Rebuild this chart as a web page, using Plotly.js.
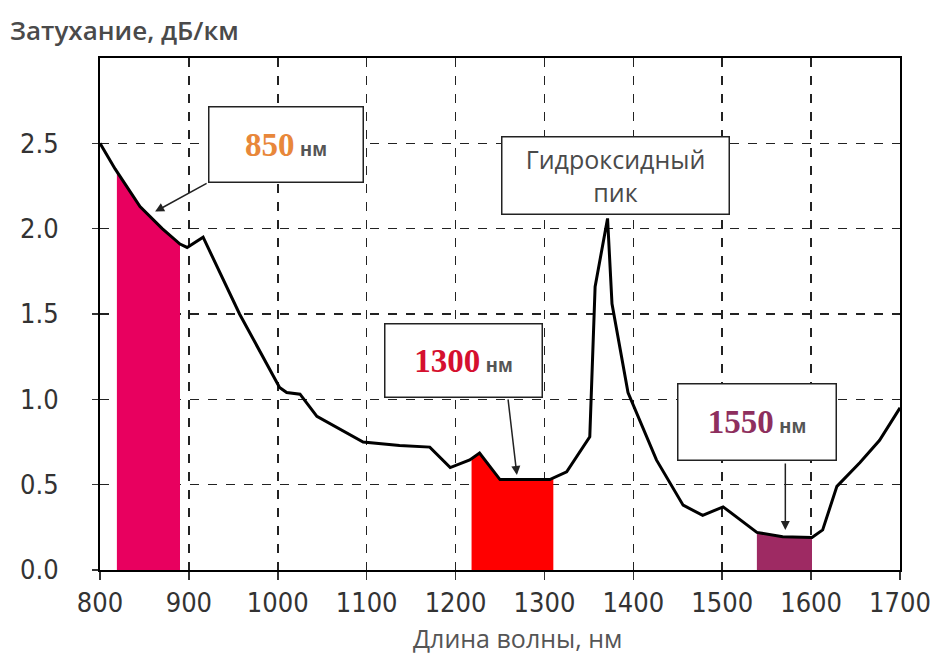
<!DOCTYPE html>
<html>
<head>
<meta charset="utf-8">
<script src="https://cdn.plot.ly/plotly-3.0.1.min.js"></script>
<style>html,body{margin:0;padding:0;background:#fff;}#chart{width:938px;height:657px;}</style>
</head>
<body>
<div id="chart"></div>
<script>
// Attenuation curve (wavelength nm -> dB/km)
var wavelength = [800, 817, 845, 870, 890, 898, 916, 957, 1002, 1010, 1025, 1044, 1096, 1137, 1171, 1194, 1216, 1227, 1250, 1306, 1325, 1351, 1357, 1371, 1376, 1394, 1426, 1456, 1478, 1501, 1539, 1568, 1601, 1613, 1629, 1655, 1677, 1700];
var attenuation = [2.5, 2.35, 2.13, 2.0, 1.91, 1.89, 1.95, 1.5, 1.07, 1.04, 1.03, 0.9, 0.75, 0.73, 0.72, 0.6, 0.645, 0.685, 0.53, 0.53, 0.575, 0.78, 1.66, 2.06, 1.56, 1.04, 0.645, 0.38, 0.32, 0.37, 0.22, 0.195, 0.19, 0.235, 0.49, 0.63, 0.76, 0.95];

// Transmission windows (shaded bands)
var band850X = [819, 845, 870, 890];
var band850Y = [2.33, 2.13, 2.0, 1.91];
var band1300X = [1218, 1227, 1250, 1306, 1310];
var band1300Y = [0.65, 0.685, 0.53, 0.53, 0.54];
var band1550X = [1539, 1568, 1601];
var band1550Y = [0.22, 0.195, 0.19];

var xTicks = [800, 900, 1000, 1100, 1200, 1300, 1400, 1500, 1600, 1700];
var yTicks = [0, 0.5, 1.0, 1.5, 2.0, 2.5];
var yTickText = ["0.0", "0.5", "1.0", "1.5", "2.0", "2.5"];

// Arrow targets
var arrow850 = [862, 2.10];
var arrow1300 = [1269, 0.557];
var arrow1550 = [1571, 0.235];

var tickFont = {family: "Liberation Sans Narrow, DejaVu Sans Condensed, sans-serif", size: 27, color: "#333"};

var traces = [
  {x: band850X, y: band850Y, type: "scatter", mode: "lines", fill: "tozeroy", fillcolor: "#E8005F", line: {width: 0, color: "#E8005F"}, hoverinfo: "skip"},
  {x: band1300X, y: band1300Y, type: "scatter", mode: "lines", fill: "tozeroy", fillcolor: "#FF0000", line: {width: 0, color: "#FF0000"}, hoverinfo: "skip"},
  {x: band1550X, y: band1550Y, type: "scatter", mode: "lines", fill: "tozeroy", fillcolor: "#9E2A63", line: {width: 0, color: "#9E2A63"}, hoverinfo: "skip"},
  {x: wavelength, y: attenuation, type: "scatter", mode: "lines", line: {color: "#000", width: 3}}
];

function boxText(num, color) {
  return '<span style="font-family:Liberation Serif,serif;font-weight:bold;font-size:33px;color:' + color + '">' + num + '</span>' +
         '<span style="font-family:Liberation Sans,sans-serif;font-weight:bold;font-size:20px;color:#555"> нм</span>';
}

function px(x){ return (x - 100) / 800; }
function py(y){ return (570 - y) / 512; }

var annotations = [
  {xref: "paper", yref: "paper", x: px(8), y: py(30), xanchor: "left", yanchor: "middle", showarrow: false,
   text: "Затухание, дБ/км", font: {family: "Open Sans, sans-serif", size: 26, color: "#4a4a4a", weight: 600}},
  {xref: "paper", yref: "paper", x: px(517), y: py(638), xanchor: "center", yanchor: "middle", showarrow: false,
   text: "Длина волны, нм", font: {family: "Open Sans, sans-serif", size: 25, color: "#555"}},
  // boxes
  {xref: "paper", yref: "paper", x: px(286), y: py(144), xanchor: "center", yanchor: "middle", showarrow: false,
   text: boxText("850", "#E8873A"), width: 153, height: 74, bgcolor: "#fff", bordercolor: "#222", borderwidth: 1.5, borderpad: 0},
  {xref: "paper", yref: "paper", x: px(615), y: py(175), xanchor: "center", yanchor: "middle", showarrow: false,
   text: "Гидроксидный<br>пик", width: 226, height: 76, bgcolor: "#fff", bordercolor: "#222", borderwidth: 1.5, borderpad: 0,
   font: {family: "Open Sans, sans-serif", size: 25, color: "#4a4a4a"}},
  {xref: "paper", yref: "paper", x: px(463), y: py(360), xanchor: "center", yanchor: "middle", showarrow: false,
   text: boxText("1300", "#D5102F"), width: 156, height: 72, bgcolor: "#fff", bordercolor: "#222", borderwidth: 1.5, borderpad: 0},
  {xref: "paper", yref: "paper", x: px(757), y: py(422), xanchor: "center", yanchor: "middle", showarrow: false,
   text: boxText("1550", "#8E2F5E"), width: 157, height: 75, bgcolor: "#fff", bordercolor: "#222", borderwidth: 1.5, borderpad: 0},
  // arrows
  {x: arrow850[0], y: arrow850[1], xref: "x", yref: "y", text: "", showarrow: true, ax: 53, ay: -29,
   arrowhead: 2, arrowsize: 1.2, arrowwidth: 1.5, arrowcolor: "#222"},
  {x: arrow1300[0], y: arrow1300[1], xref: "x", yref: "y", text: "", showarrow: true, ax: -9, ay: -77,
   arrowhead: 2, arrowsize: 1.2, arrowwidth: 1.5, arrowcolor: "#222"},
  {x: arrow1550[0], y: arrow1550[1], xref: "x", yref: "y", text: "", showarrow: true, ax: 0, ay: -68,
   arrowhead: 2, arrowsize: 1.2, arrowwidth: 1.5, arrowcolor: "#222"}
];

var layout = {
  width: 938, height: 657,
  margin: {l: 100, r: 38, t: 58, b: 87},
  paper_bgcolor: "#fff", plot_bgcolor: "#fff",
  showlegend: false,
  xaxis: {range: [800, 1700], tickvals: xTicks, ticktext: xTicks.map(String), tickfont: tickFont,
          showgrid: true, gridcolor: "#222", gridwidth: 1.5, griddash: "dash",
          showline: true, mirror: true, linecolor: "#000", linewidth: 2,
          ticks: "outside", ticklen: 8, tickcolor: "#333", tickwidth: 1.5, zeroline: false, fixedrange: true},
  yaxis: {range: [0, 3.0], tickvals: yTicks, ticktext: yTickText, tickfont: tickFont,
          showgrid: true, gridcolor: "#222", gridwidth: 1.5, griddash: "dash",
          showline: true, mirror: true, linecolor: "#000", linewidth: 2,
          ticks: "outside", ticklen: 6, tickcolor: "#333", tickwidth: 1.5, zeroline: false,
          ticklabelstandoff: 28, fixedrange: true},
  annotations: annotations
};

Plotly.newPlot("chart", traces, layout, {displayModeBar: false, staticPlot: true});
</script>
</body>
</html>
